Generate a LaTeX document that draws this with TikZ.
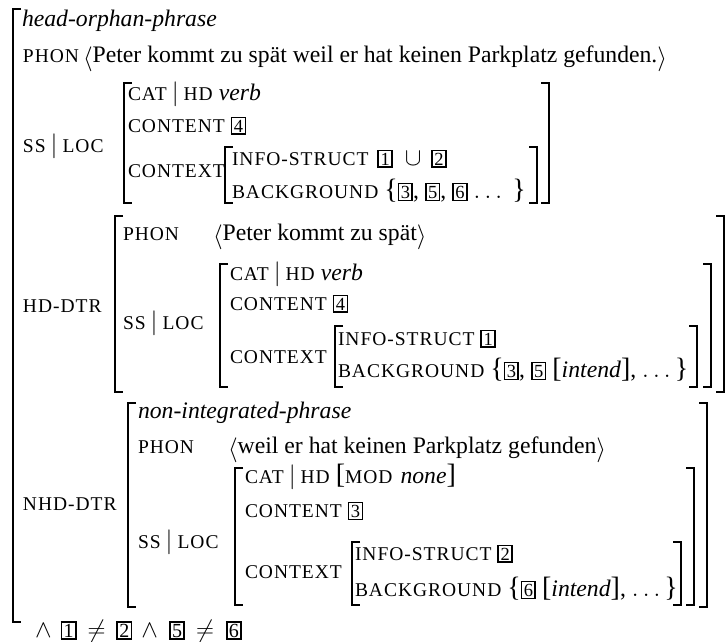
\documentclass[tikz,border=0pt]{standalone}
\usepackage{fontspec}
\setmainfont{Liberation Serif}
\newfontfamily\scf[LetterSpace=5]{Liberation Serif}
\newcommand\feat[1]{{\scf\fontsize{19.5}{21}\selectfont #1}}
\newcommand\tg[1]{{\setlength\fboxsep{1.4pt}\setlength\fboxrule{1.7pt}\fbox{\fontsize{18.5}{18.5}\selectfont #1}}}
\newcommand\tgb[1]{{\setlength\fboxsep{1.2pt}\setlength\fboxrule{1.8pt}\fbox{\fontsize{20}{20}\selectfont #1}}}
\newcommand\vb{\hspace{5pt}$|$\hspace{5pt}}
\newcommand\bigdel[1]{{\fontsize{28}{28}\selectfont #1}}
\newcommand\lang{\raisebox{-3pt}{$\langle$}}
\newcommand\rang{\raisebox{-3pt}{$\rangle$}}
\newcommand\lbr[3]{\draw[brk] (#1+8,#2) -- (#1,#2) -- (#1,#3) -- (#1+8,#3);}
\newcommand\rbr[3]{\draw[brk] (#1-8,#2) -- (#1,#2) -- (#1,#3) -- (#1-8,#3);}
\begin{document}
\begin{tikzpicture}[x=1pt,y=-1pt,
  t/.style={anchor=base west,inner sep=0pt,outer sep=0pt,font=\fontsize{23.7}{28}\selectfont},
  brk/.style={line width=1.6pt}]
\useasboundingbox (0,0) rectangle (728,642);
% outer
\lbr{13}{9}{622}
\node[t] (ty) at (22,27) {\textit{head-orphan-phrase}};
\node[t] (ph) at (23,63) {\feat{PHON}};
\node[t] (phv) at (83,63) {\lang Peter kommt zu spät weil er hat keinen Parkplatz gefunden.\rang};
\node[t] (ss) at (23,152) {\feat{SS}\vb\feat{LOC}};
\lbr{124}{83}{203}
\rbr{549}{83}{203}
\node[t] (cat) at (128,100) {\feat{CAT}\vb\feat{HD} \textit{verb}};
\node[t] (cont) at (128,132) {\feat{CONTENT} \tg{4}};
\node[t] (ctx) at (128,177) {\feat{CONTEXT}};
\lbr{225}{147}{203}
\rbr{537}{147}{203}
\node[t] (inf) at (232,165) {\feat{INFO-STRUCT}\hspace{3pt} \tg{1}\hspace{12pt}$\cup$\hspace{4pt} \tg{2}};
\node[t] (bg) at (232,198) {\feat{BACKGROUND} \bigdel{\{}\tg{3}, \tg{5}, \tg{6} $\ldots$\hspace{10pt}\bigdel{\}}};
% head daughter
\node[t] (hd) at (23,312) {\feat{HD-DTR}};
\lbr{115}{216}{392}
\rbr{724}{216}{392}
\node[t] (hph) at (123,240) {\feat{PHON}};
\node[t] (hphv) at (213,240) {\lang Peter kommt zu spät\rang};
\node[t] (hss) at (123,329) {\feat{SS}\vb\feat{LOC}};
\lbr{220}{264}{387}
\rbr{711}{264}{387}
\node[t] (hcat) at (230,280) {\feat{CAT}\vb\feat{HD} \textit{verb}};
\node[t] (hcont) at (230,310) {\feat{CONTENT} \tg{4}};
\node[t] (hctx) at (230,363) {\feat{CONTEXT}};
\lbr{335}{326}{387}
\rbr{697}{326}{387}
\node[t] (hinf) at (338,345) {\feat{INFO-STRUCT} \tg{1}};
\node[t] (hbg) at (338,377) {\feat{BACKGROUND} \bigdel{\{}\tg{3}, \tg{5} \bigdel{[}\textit{intend}\bigdel{]}, $\ldots$\,\bigdel{\}}};
% non-head daughter
\node[t] (nd) at (23,510) {\feat{NHD-DTR}};
\lbr{128}{403}{607}
\rbr{707}{403}{607}
\node[t] (nty) at (138,418) {\textit{non-integrated-phrase}};
\node[t] (nph) at (138,453) {\feat{PHON}};
\node[t] (nphv) at (228,453) {\lang weil er hat keinen Parkplatz gefunden\rang};
\node[t] (nss) at (138,548) {\feat{SS}\vb\feat{LOC}};
\lbr{235}{468}{605}
\rbr{694}{468}{605}
\node[t] (ncat) at (245,483) {\feat{CAT}\vb\feat{HD} \bigdel{[}\feat{MOD}\hspace{8pt}\textit{none}\bigdel{]}};
\node[t] (ncont) at (245,517) {\feat{CONTENT} \tg{3}};
\node[t] (nctx) at (245,578) {\feat{CONTEXT}};
\lbr{352}{542}{605}
\rbr{681}{542}{605}
\node[t] (ninf) at (355,560) {\feat{INFO-STRUCT} \tg{2}};
\node[t] (nbg) at (355,596) {\feat{BACKGROUND} \bigdel{\{}\tg{6} \bigdel{[}\textit{intend}\bigdel{]}, $\ldots$\,\bigdel{\}}};
% constraints
\node[t] (cons) at (35,637) {$\wedge$\hspace{9pt}\tgb{1}\hspace{11pt}$\neq$\hspace{11pt}\tgb{2}\hspace{9pt}$\wedge$\hspace{11pt}\tgb{5}\hspace{11pt}$\neq$\hspace{12pt}\tgb{6}};
\end{tikzpicture}
\end{document}
